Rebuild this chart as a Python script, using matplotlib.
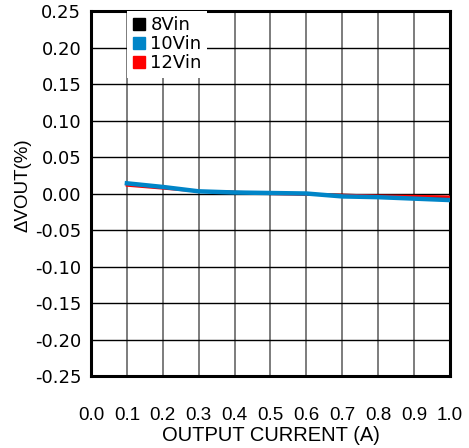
import numpy as np
import matplotlib
matplotlib.use("Agg")
import matplotlib.pyplot as plt
from matplotlib.lines import Line2D

plt.rcParams['font.family'] = ['Liberation Sans', 'DejaVu Sans']

# load current (A)
current = [0.1, 0.2, 0.3, 0.4, 0.5, 0.6, 0.7, 0.8, 0.9, 1.0]
# load regulation in %
dv_8vin = [0.013, 0.009, 0.003, 0.002, 0.001, -0.001, -0.002, -0.003, -0.004, -0.005]
dv_10vin = [0.014, 0.009, 0.003, 0.0014, 0.0007, 0.0, -0.004, -0.005, -0.007, -0.009]
dv_12vin = [0.011, 0.007, 0.003, 0.002, -0.0005, -0.0015, -0.002, -0.003, -0.0035, -0.0045]

names = ["8Vin", "10Vin", "12Vin"]
colors = ["#000000", "#0085C8", "#FF0000"]

x_ticks = np.arange(0, 1.01, 0.1)
y_ticks = np.arange(-0.25, 0.26, 0.05)

fig = plt.figure(figsize=(4.69, 4.48), dpi=100)
ax = fig.add_axes([0.194, 0.1607, 0.7655, 0.8147])

ax.plot(current, dv_8vin, color=colors[0], lw=1.8, zorder=3)
ax.plot(current, dv_12vin, color=colors[2], lw=1.8, zorder=4)
ax.plot(current, dv_10vin, color=colors[1], lw=3.2, zorder=5)

ax.set_xlim(0, 1.0)
ax.set_ylim(-0.25, 0.25)
ax.set_xticks(x_ticks)
ax.set_xticklabels(["%.1f" % v for v in x_ticks], fontsize=13.5)
ax.set_yticks(y_ticks)
ax.set_yticklabels(["%.2f" % (0 if abs(v) < 1e-9 else v) for v in y_ticks],
                   fontsize=13, family='DejaVu Sans')
ax.tick_params(length=0)
ax.tick_params(axis='x', pad=22)
ax.tick_params(axis='y', pad=7)

for v in x_ticks[1:-1]:
    ax.axvline(v, color="#666666", lw=1.2, zorder=1)
for v in y_ticks[1:-1]:
    ax.axhline(v, color="#000000", lw=1.0, zorder=1)

for s in ax.spines.values():
    s.set_linewidth(2.2)

ax.set_xlabel("OUTPUT CURRENT (A)", fontsize=14.5, labelpad=2)
ax.set_ylabel("ΔVOUT(%)", fontsize=13.5)
ax.yaxis.set_label_coords(-0.165, 0.523)

handles = [Line2D([], [], ls='none', marker='s', markersize=8, color=c) for c in colors]
leg = ax.legend(handles, names, loc='upper left', bbox_to_anchor=(0.1, 1.0),
                prop={'family': 'DejaVu Sans', 'size': 13}, frameon=True,
                fancybox=False, borderaxespad=0, borderpad=0.3,
                labelspacing=0.05, handlelength=0.7, handletextpad=0.3,
                framealpha=1)
leg.get_frame().set_edgecolor('white')
leg.get_frame().set_linewidth(0)
leg.set_zorder(6)

fig.savefig("out.png", dpi=100)
